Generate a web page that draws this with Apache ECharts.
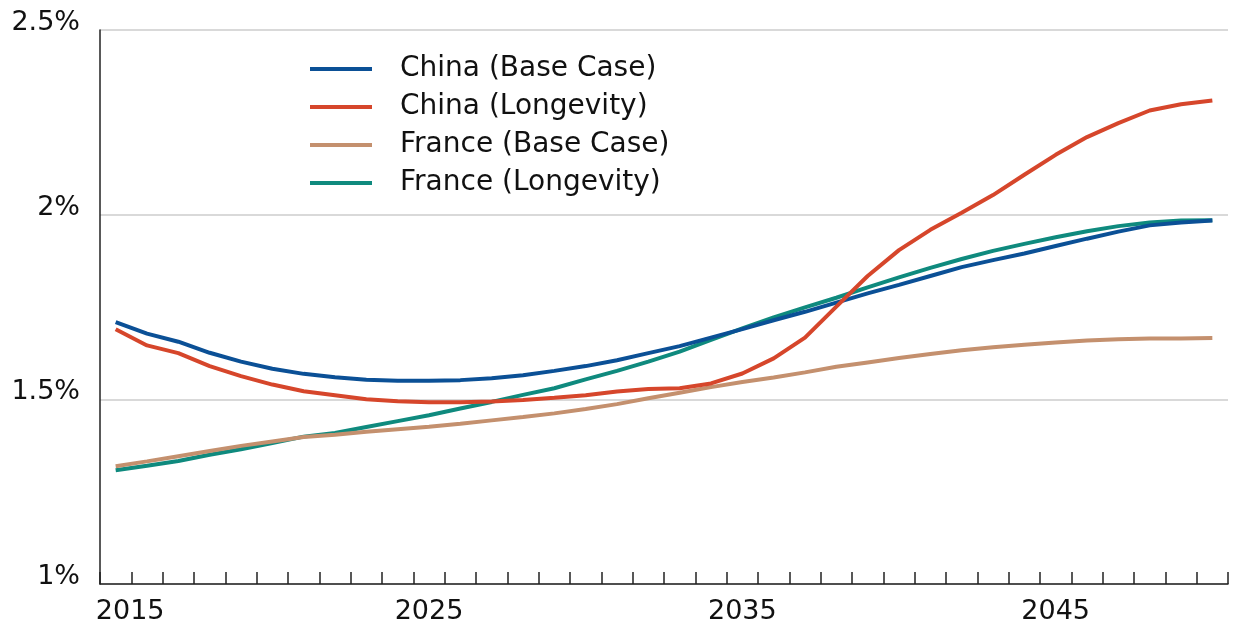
<!DOCTYPE html>
<html>
<head>
<meta charset="utf-8">
<script src="https://cdn.jsdelivr.net/npm/echarts@6/dist/echarts.min.js"></script>
<style>html,body{margin:0;padding:0;background:#fff}#c{width:1241px;height:626px}</style>
</head>
<body>
<div id="c"></div>
<script>
var years = [];
for (var y = 2015; y <= 2050; y++) years.push(String(y));
var yTicks = [1, 1.5, 2, 2.5];

var chinaBase = [1.709,1.678,1.656,1.626,1.602,1.583,1.569,1.560,1.553,1.550,1.550,1.552,1.557,1.565,1.577,1.590,1.606,1.625,1.644,1.667,1.690,1.714,1.737,1.762,1.787,1.810,1.834,1.858,1.877,1.895,1.915,1.935,1.954,1.971,1.979,1.984];
var chinaLong = [1.690,1.646,1.625,1.590,1.563,1.540,1.522,1.511,1.500,1.495,1.492,1.492,1.494,1.498,1.504,1.511,1.521,1.528,1.530,1.543,1.570,1.611,1.667,1.751,1.834,1.904,1.959,2.005,2.053,2.108,2.162,2.210,2.248,2.282,2.299,2.309];
var franceBase = [1.319,1.332,1.346,1.360,1.374,1.386,1.398,1.404,1.412,1.419,1.426,1.434,1.443,1.452,1.462,1.474,1.487,1.503,1.518,1.533,1.547,1.559,1.573,1.588,1.600,1.612,1.623,1.633,1.641,1.648,1.654,1.659,1.663,1.665,1.665,1.666];
var franceLong = [1.308,1.320,1.333,1.350,1.365,1.382,1.399,1.409,1.425,1.441,1.457,1.475,1.493,1.512,1.530,1.554,1.577,1.602,1.629,1.661,1.692,1.722,1.749,1.775,1.803,1.830,1.856,1.880,1.902,1.921,1.939,1.955,1.969,1.979,1.984,1.985];

var seriesNames = ['China (Base Case)', 'China (Longevity)', 'France (Base Case)', 'France (Longevity)'];
var colors = ['#0b5096', '#d6462b', '#c4906e', '#0f8a7e'];

var FONT = 'DejaVu Sans';
var chart = echarts.init(document.getElementById('c'), null, {renderer: 'canvas'});

function mk(i, data, z) {
  return {
    name: seriesNames[i], type: 'line', data: data, z: z,
    symbol: 'none', smooth: false,
    lineStyle: {color: colors[i], width: 4},
    itemStyle: {color: colors[i]},
    emphasis: {disabled: true}
  };
}

chart.setOption({
  animation: false,
  backgroundColor: '#fff',
  textStyle: {fontFamily: FONT},
  grid: {left: 100, right: 13, top: 30, bottom: 42, containLabel: false},
  legend: {
    orient: 'vertical', left: 305, top: 49,
    icon: 'rect', itemWidth: 62, itemHeight: 4, itemGap: 8,
    data: seriesNames,
    textStyle: {fontFamily: FONT, fontSize: 28, color: '#111', lineHeight: 30, padding: [0, 0, 0, 23]},
    selectedMode: false
  },
  xAxis: {
    type: 'category', data: years, boundaryGap: true,
    axisLine: {show: true, lineStyle: {color: '#222', width: 1.5}},
    axisTick: {show: true, inside: true, length: 12, interval: 0, lineStyle: {color: '#222', width: 1.5}},
    axisLabel: {
      interval: 9, margin: 14, fontFamily: FONT, fontSize: 27, color: '#111',
      formatter: function (v) { return v === '2015' ? '{a|' + v + '}' : v; },
      rich: {a: {fontFamily: FONT, fontSize: 27, color: '#111', padding: [0, 0, 0, 29]}}
    },
    splitLine: {show: false}
  },
  yAxis: {
    type: 'value', min: yTicks[0], max: yTicks[yTicks.length - 1], interval: 0.5,
    axisLine: {show: true, lineStyle: {color: '#222', width: 1.5}},
    axisTick: {show: false},
    axisLabel: {
      margin: 20, fontFamily: FONT, fontSize: 27, color: '#111',
      verticalAlign: 'bottom', lineHeight: 14,
      formatter: function (v) { return v + '%'; }
    },
    splitLine: {show: true, lineStyle: {color: '#cccccc', width: 1.5}}
  },
  series: [
    mk(0, chinaBase, 4),
    mk(1, chinaLong, 5),
    mk(2, franceBase, 3),
    mk(3, franceLong, 2)
  ]
});
</script>
</body>
</html>
